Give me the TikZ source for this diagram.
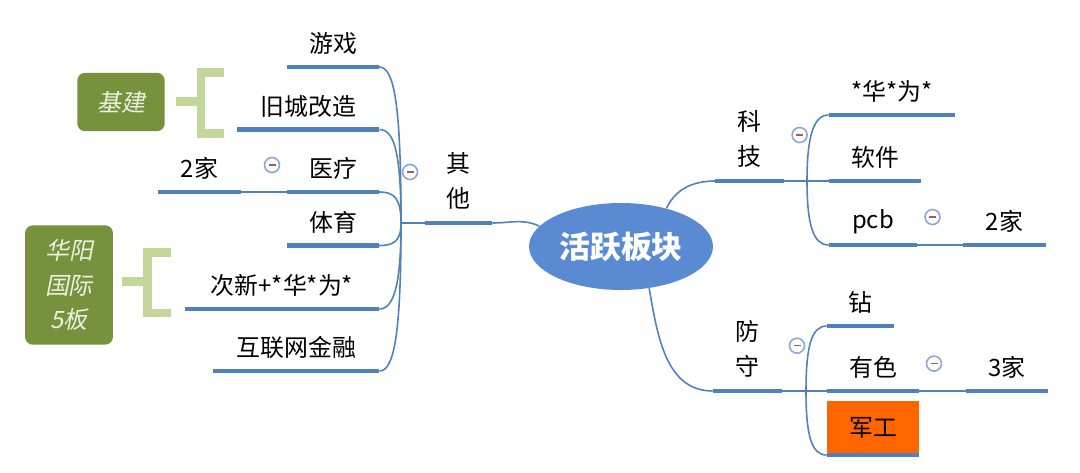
\documentclass[tikz,border=0pt]{standalone}
\usepackage{fontspec}
\setmainfont{Noto Sans CJK SC}
\newfontfamily\slantcjk[FakeSlant=0.2]{Noto Sans CJK SC}
\usetikzlibrary{positioning,shapes.geometric}
\definecolor{barblue}{HTML}{4F81BD}
\definecolor{hubblue}{HTML}{5A8AD2}
\definecolor{olive}{HTML}{76923C}
\definecolor{paleolive}{HTML}{C4D79B}
\definecolor{cream}{HTML}{EBF1DE}
\definecolor{foldring}{HTML}{8DA6D4}
\definecolor{hotorange}{HTML}{FF6600}

\begin{document}
\begin{tikzpicture}
 [
  x=0.02cm, y=-0.02cm,
  topic/.style={anchor=south, inner sep=0pt, minimum height=0.92cm, font=\fontsize{13.6}{19.8}\selectfont},
  vtopic/.style={topic, minimum height=1.68cm, align=center},
  hub/.style={ellipse, fill=hubblue, inner sep=0pt, minimum width=3.68cm, minimum height=1.74cm, text=white, font=\fontsize{17.6}{20}\selectfont\bfseries},
  tag/.style={rounded corners=0.16cm, fill=olive, text=cream, inner sep=0pt, align=center, font=\fontsize{13.6}{19.6}\selectfont\slantcjk},
  bar/.style={draw=barblue, line width=2.7pt},
  link/.style={draw=barblue, line width=0.9pt},
  fold/.style={circle, draw=foldring, line width=0.9pt, inner sep=0pt, minimum size=0.3cm,
    path picture={\draw[red!30!gray, line width=0.6pt] ([xshift=-0.07cm]path picture bounding box.center) -- ([xshift=0.07cm]path picture bounding box.center);}},
  bracket/.style={draw=paleolive, line width=0.18cm},
 ]
  \useasboundingbox (0,0) rectangle (1080,473);

  \node[hub] (center) at (621,246.5) {活跃板块};

  % left branch
  \node[vtopic, minimum width=1.34cm] (qita) at (458.5,223) {其\\他};
  \node[topic, minimum width=1.83cm] (youxi) at (333,67) {游戏};
  \node[topic, minimum width=2.83cm] (jiucheng) at (308.3,129.5) {旧城改造};
  \node[topic, minimum width=1.83cm] (yiliao) at (333,192) {医疗};
  \node[topic, minimum width=1.66cm] (jia2L) at (199.5,192) {2家};
  \node[topic, minimum width=1.83cm] (tiyu) at (333,245.5) {体育};
  \node[topic, minimum width=3.88cm] (cixin) at (282,309) {次新+*华*为*};
  \node[topic, minimum width=3.31cm] (hulian) at (296.3,371) {互联网金融};

  \node[tag, minimum width=1.75cm, minimum height=1.17cm] (jijian) at (121,102) {基建};
  \node[tag, minimum width=1.76cm, minimum height=2.39cm] (huayang) at (69,285) {华阳\\国际\\5板};
  \draw[bracket] ([xshift=0.22cm]jijian.east) -- ++(25,0);
  \draw[bracket] (224,73) -| (201,133.5) -- (224,133.5);
  \draw[bracket] ([xshift=0.18cm,yshift=0.07cm]huayang.east) -- ++(25.5,0);
  \draw[bracket] (171,252.5) -| (147.5,313) -- (171,313);

  % right branches
  \node[vtopic, minimum width=1.36cm] (keji) at (749.7,181) {科\\技};
  \node[topic, minimum width=2.52cm] (huawei) at (892,115) {*华*为*};
  \node[topic, minimum width=1.84cm] (ruanjian) at (875,181) {软件};
  \node[topic, minimum width=1.76cm] (pcb) at (873,245) {pcb};
  \node[topic, minimum width=1.65cm] (jia2R) at (1004.4,245) {2家};
  \node[vtopic, minimum width=1.38cm] (fangshou) at (747.5,391) {防\\守};
  \node[topic, minimum width=1.34cm] (zuan) at (860.5,326) {钻};
  \node[topic, minimum width=1.84cm] (youse) at (873,391) {有色};
  \node[topic, minimum width=1.64cm] (jia3) at (1007,391) {3家};
  \node[topic, minimum width=1.84cm, minimum height=1.08cm, fill=hotorange] (jungong) at (873,455) {军工};

  % connectors
  \draw[link] (qita.south east) to[out=0,in=155] (center.166);
  \draw[link] (center.40) to[out=65,in=180] (keji.south west);
  \draw[link] (center.-56) to[out=-80,in=180] (fangshou.south west);

  \coordinate (qitaJ) at (401,223);
  \draw[link] (qita.south west) -- (qitaJ);
  \foreach \n/\d in {youxi/-120,jiucheng/-70,yiliao/-25,tiyu/18,cixin/60,hulian/110}
    \draw[link] (qitaJ) .. controls +(0,\d) and +(15,0) .. (\n.south east);
  \draw[link] (yiliao.south west) -- (jia2L.south east);

  \coordinate (kejiJ) at (807,181);
  \draw[link] (keji.south east) -- (ruanjian.south west);
  \draw[link] (kejiJ) .. controls +(0,-45) and +(-15,0) .. (huawei.south west);
  \draw[link] (kejiJ) .. controls +(0,45) and +(-15,0) .. (pcb.south west);
  \draw[link] (pcb.south east) -- (jia2R.south west);

  \coordinate (fangshouJ) at (806,391);
  \draw[link] (fangshou.south east) -- (youse.south west);
  \draw[link] (fangshouJ) .. controls +(0,-45) and +(-15,0) .. (zuan.south west);
  \draw[link] (fangshouJ) .. controls +(0,45) and +(-15,0) .. (jungong.south west);
  \draw[link] (youse.south east) -- (jia3.south west);

  % underlines
  \foreach \n in {qita,youxi,jiucheng,yiliao,jia2L,tiyu,cixin,hulian,keji,huawei,ruanjian,pcb,jia2R,fangshou,zuan,youse,jia3,jungong}
    \draw[bar] (\n.south west) -- (\n.south east);

  % fold marks
  \node[fold] (qitaF) at (410,172) {};
  \node[fold] (yiliaoF) at (272,165) {};
  \node[fold] (kejiF) at (799.6,135) {};
  \node[fold] (pcbF) at (932.5,217) {};
  \node[fold] (fangshouF) at (797,345.7) {};
  \node[fold] (youseF) at (934,363.6) {};
\end{tikzpicture}
\end{document}
